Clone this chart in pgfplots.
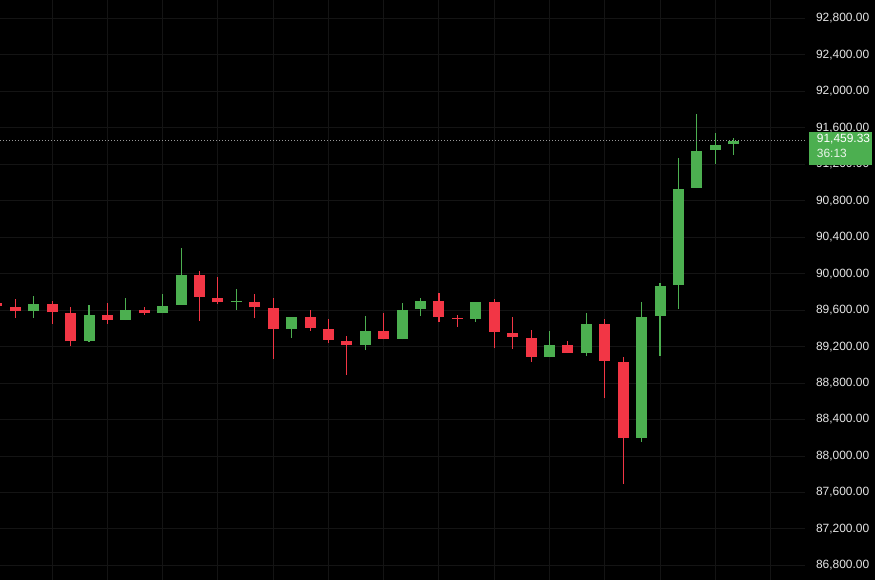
\documentclass[border=0pt]{standalone}
\usepackage{pgfplots}
\pgfplotsset{compat=1.18}
\usepackage{pgfplotstable}
\usepackage{fontspec}
\setmainfont{Liberation Sans}
\definecolor{upc}{HTML}{4CAF50}
\definecolor{dnc}{HTML}{F23645}
\definecolor{gridc}{HTML}{141414}
\definecolor{txt}{HTML}{E6E6E6}

\pgfplotstableread{
x o h l c
2 89591 89759 89518 89671
5 89262 89657 89255 89551
7 89493 89734 89490 89606
9 89573 89778 89570 89649
10 89660 90282 89657 89989
13 89690 89833 89602 89700
16 89394 89528 89295 89525
20 89218 89536 89163 89372
22 89284 89679 89280 89602
23 89613 89734 89536 89701
26 89504 89693 89471 89690
30 89087 89372 89084 89218
32 89131 89569 89098 89449
35 88198 89690 88154 89525
36 89536 89898 89098 89866
37 89876 91270 89613 90930
38 90941 91752 90938 91346
39 91357 91544 91204 91412
40 91423 91489 91303 91459.33
}\up

\pgfplotstableread{
x o h l c
0 89679 89690 89635 89646
1 89635 89723 89518 89591
3 89671 89701 89452 89577
4 89573 89632 89207 89259
6 89551 89679 89452 89493
8 89602 89635 89551 89569
11 89989 90030 89485 89745
12 89734 89964 89671 89687
14 89695 89778 89514 89632
15 89624 89734 89068 89394
17 89525 89602 89372 89405
18 89394 89504 89240 89273
19 89262 89317 88889 89218
21 89372 89569 89280 89284
24 89701 89789 89471 89525
25 89514 89547 89416 89504
27 89690 89723 89185 89361
28 89350 89525 89174 89306
29 89295 89383 89032 89087
31 89218 89262 89128 89131
33 89449 89504 88637 89043
34 89032 89087 87693 88198
}\down

\begin{document}
\begin{tikzpicture}
\path[use as bounding box, fill=black] (0,0) rectangle (875bp,580bp);
\begin{axis}[
  at={(0,0)}, anchor=south west, scale only axis,
  width=805bp, height=580bp,
  xmin=0.168, xmax=43.87, ymin=86640, ymax=93003,
  axis line style={draw=none}, major tick length=0,
  xtick={3,6,...,42}, xticklabels={},
  ytick={86800,87200,...,92800},
  scaled y ticks=false,
  grid=major, major grid style={gridc, line width=1bp},
  yticklabel pos=right,
  yticklabel style={font=\fontsize{12}{14}\selectfont, text=txt, anchor=west, xshift=7.5bp},
  /pgf/number format/fixed,
  /pgf/number format/fixed zerofill,
  /pgf/number format/precision=2,
  /pgf/number format/1000 sep={,},
  /pgf/number format/assume math mode=true,
]
% wicks
\addplot [draw=none, mark=none, error bars/.cd, y dir=plus, y explicit, error mark=none,
  error bar style={line width=1.1bp, draw=upc}]
  table [x=x, y=l, y error plus expr={\thisrow{h}-\thisrow{l}}] {\up};
\addplot [draw=none, mark=none, error bars/.cd, y dir=plus, y explicit, error mark=none,
  error bar style={line width=1.1bp, draw=dnc}]
  table [x=x, y=l, y error plus expr={\thisrow{h}-\thisrow{l}}] {\down};
% bodies
\addplot [draw=none, mark=none, error bars/.cd, y dir=plus, y explicit, error mark=none,
  error bar style={line width=11bp, draw=upc}]
  table [x=x, y=o, y error plus expr={\thisrow{c}-\thisrow{o}}] {\up};
\addplot [draw=none, mark=none, error bars/.cd, y dir=plus, y explicit, error mark=none,
  error bar style={line width=11bp, draw=dnc}]
  table [x=x, y=c, y error plus expr={\thisrow{o}-\thisrow{c}}] {\down};
% last price line
\addplot [gray!80, line width=1bp, dash pattern=on 1bp off 2bp] coordinates {(0.168,91459.33) (43.87,91459.33)};
\coordinate (pl) at (axis cs:43.87,91459.33);
\end{axis}
\fill[upc] ([xshift=4bp,yshift=8.4bp]pl) rectangle ++(63bp,-33bp);
\node[anchor=west, text=white, inner sep=0, font=\fontsize{12}{14}\selectfont] at ([xshift=11.7bp, yshift=1.7bp]pl) {91,459.33};
\node[anchor=west, text=white!88!upc, inner sep=0, font=\fontsize{12}{14}\selectfont] at ([xshift=11.7bp, yshift=-12.8bp]pl) {36:13};
\end{tikzpicture}
\end{document}
